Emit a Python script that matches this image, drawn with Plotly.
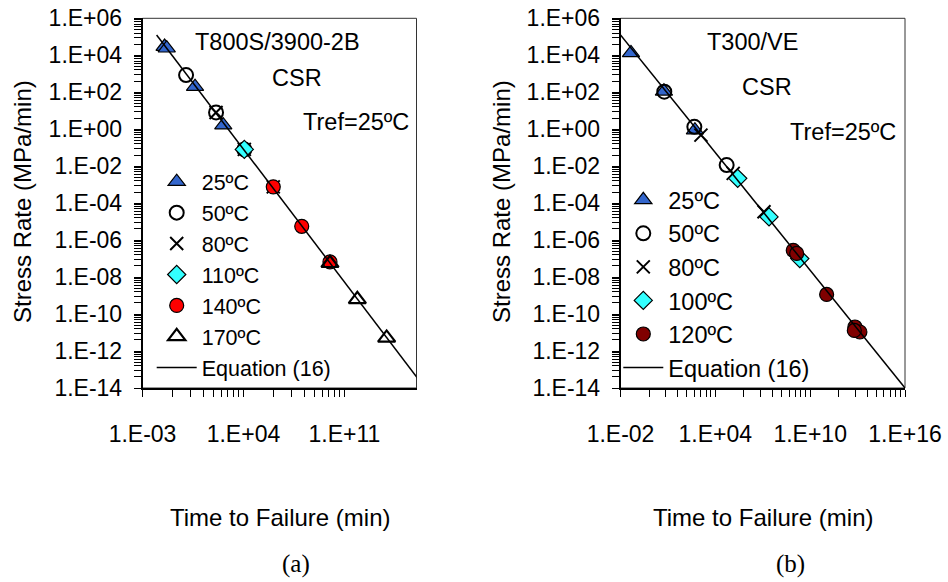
import numpy as np
import plotly.graph_objects as go

W, H = 948, 582

# ---------------- data: panel (a) T800S/3900-2B ----------------
a_t25 = [3.4e-2, 4.8e-2, 4.4e0, 4.0e2]
a_s25 = [2.95e4, 2.4e4, 2.0e2, 1.66e0]
a_t50 = [1.05e0, 1.26e2, 1.15e4]
a_s50 = [8.5e2, 8.1e0, 8.1e-2]
a_t80 = [1.26e2, 1.15e4, 1.17e6]
a_s80 = [8.1e0, 8.1e-2, 7.6e-4]
a_t110 = [1.15e4]
a_s110 = [8.1e-2]
a_t140 = [1.17e6, 1.1e8, 1.0e10]
a_s140 = [7.6e-4, 5.6e-6, 6.6e-8]
a_t170 = [1.0e10, 7.9e11, 8.5e13]
a_s170 = [5.6e-8, 6.2e-10, 5.1e-12]
a_eq_t = [9.5e-3, 3.9e16]
a_eq_s = [1.26e5, 1.0e-14]

# ---------------- data: panel (b) T300/VE ----------------
b_t25 = [4.6e-2, 5.6e0, 5.1e2]
b_s25 = [1.35e4, 1.12e2, 8.9e-1]
b_t50 = [5.9e0, 4.7e2, 5.2e4]
b_s50 = [1.07e2, 1.35e0, 1.15e-2]
b_t80 = [1.23e3, 1.35e5, 1.2e7]
b_s80 = [4.8e-1, 4.1e-3, 3.4e-5]
b_t100 = [2.6e5, 2.5e7, 2.2e9]
b_s100 = [2.2e-3, 1.8e-5, 1.0e-7]
b_t120 = [8.5e8, 1.4e9, 1.1e11, 6.8e12, 1.4e13, 6.2e12]
b_s120 = [2.8e-7, 1.9e-7, 1.15e-9, 2.0e-11, 1.07e-11, 1.3e-11]
b_eq_t = [1.0e-2, 1.0e16]
b_eq_s = [1.26e5, 1.0e-14]

# ---------------- tick labels ----------------
y_tickvals = [1e6, 1e4, 1e2, 1e0, 1e-2, 1e-4, 1e-6, 1e-8, 1e-10, 1e-12, 1e-14]
y_ticktext = ["1.E+06", "1.E+04", "1.E+02", "1.E+00", "1.E-02", "1.E-04",
              "1.E-06", "1.E-08", "1.E-10", "1.E-12", "1.E-14"]
xa_tickvals = [1e-3, 1e4, 1e11]
xa_ticktext = ["1.E-03", "1.E+04", "1.E+11"]
xb_tickvals = [1e-2, 1e4, 1e10, 1e16]
xb_ticktext = ["1.E-02", "1.E+04", "1.E+10", "1.E+16"]

FONT = "Liberation Sans, Arial, sans-serif"
BLUE = "#3366CC"
CYAN = "#33FFFF"
RED = "#FF0000"
DARKRED = "#800000"


def excel_minor(lo, hi, step):
    vals = []
    e = lo
    while e + step <= hi + 1e-9:
        for k in range(2, 10):
            vals.append(10 ** (e + step * np.log10(k)))
        e += step
    return vals


def px2x(px):
    return px / W


def px2y(py):
    return 1 - py / H


fig = go.Figure()


def add(x, y, name, marker, xa, ya, legend, grp):
    fig.add_trace(go.Scatter(x=x, y=y, mode="markers", name=name, marker=marker,
                             xaxis=xa, yaxis=ya, legend=legend, legendgroup=grp,
                             cliponaxis=False))


edge = dict(color="black", width=1.2)
# panel a
add(a_t25, a_s25, "25ºC", dict(symbol="triangle-up", size=15, color=BLUE, line=edge), "x", "y", "legend", "a1")
add(a_t50, a_s50, "50ºC", dict(symbol="circle-open", size=14, color="black", line=dict(width=2)), "x", "y", "legend", "a2")
add(a_t80, a_s80, "80ºC", dict(symbol="x-thin", size=13, line=dict(width=2, color="black")), "x", "y", "legend", "a3")
add(a_t110, a_s110, "110ºC", dict(symbol="diamond", size=14, color=CYAN, line=edge), "x", "y", "legend", "a4")
add(a_t140, a_s140, "140ºC", dict(symbol="circle", size=14, color=RED, line=edge), "x", "y", "legend", "a5")
add(a_t170, a_s170, "170ºC", dict(symbol="triangle-up-open", size=15, color="black", line=dict(width=2.2)), "x", "y", "legend", "a6")
fig.add_trace(go.Scatter(x=a_eq_t, y=a_eq_s, mode="lines", name="Equation (16)",
                         line=dict(color="black", width=1.5), xaxis="x", yaxis="y",
                         legend="legend", legendgroup="a7"))
# panel b
add(b_t25, b_s25, "25ºC", dict(symbol="triangle-up", size=15, color=BLUE, line=edge), "x2", "y2", "legend2", "b1")
add(b_t50, b_s50, "50ºC", dict(symbol="circle-open", size=14, color="black", line=dict(width=2)), "x2", "y2", "legend2", "b2")
add(b_t80, b_s80, "80ºC", dict(symbol="x-thin", size=13, line=dict(width=2, color="black")), "x2", "y2", "legend2", "b3")
add(b_t100, b_s100, "100ºC", dict(symbol="diamond", size=14, color=CYAN, line=edge), "x2", "y2", "legend2", "b4")
add(b_t120, b_s120, "120ºC", dict(symbol="circle", size=14, color=DARKRED, line=edge), "x2", "y2", "legend2", "b5")
fig.add_trace(go.Scatter(x=b_eq_t, y=b_eq_s, mode="lines", name="Equation (16)",
                         line=dict(color="black", width=1.5), xaxis="x2", yaxis="y2",
                         legend="legend2", legendgroup="b6"))

tickfont = dict(family=FONT, size=23, color="black")


def xaxis_cfg(domain, rng, tv, tt, minor_vals, anchor):
    return dict(domain=domain, type="log", range=rng, tickmode="array", tickvals=tv, ticktext=tt,
                ticks="outside", ticklen=7, tickwidth=1, tickcolor="black",
                showline=True, linewidth=1.5, linecolor="black", showgrid=False, zeroline=False,
                tickfont=tickfont, ticklabelstandoff=18, ticklabeloverflow="allow",
                anchor=anchor, automargin=False,
                minor=dict(tickmode="array", tickvals=minor_vals, ticks="outside", ticklen=7,
                           tickwidth=1, tickcolor="black", showgrid=False))


def yaxis_cfg(domain, anchor):
    return dict(domain=domain, type="log", range=[-14, 6], tickmode="array", tickvals=y_tickvals,
                ticktext=y_ticktext, ticks="outside", ticklen=7, tickwidth=1, tickcolor="black",
                showline=True, linewidth=1.5, linecolor="black", showgrid=False, zeroline=False,
                tickfont=tickfont, ticklabelstandoff=7, ticklabeloverflow="allow",
                anchor=anchor, automargin=False,
                minor=dict(tickmode="array", tickvals=excel_minor(-14, 6, 2), ticks="outside",
                           ticklen=7, tickwidth=1, tickcolor="black", showgrid=False))


ydom = [px2y(388), px2y(18.3)]
fig.update_layout(
    width=W, height=H, margin=dict(l=0, r=0, t=0, b=0),
    paper_bgcolor="white", plot_bgcolor="white", showlegend=True,
    xaxis=xaxis_cfg([px2x(142.5), px2x(416.5)], [-3, 16], xa_tickvals, xa_ticktext,
                    excel_minor(-3, 16, 7), "y"),
    yaxis=yaxis_cfg(ydom, "x"),
    xaxis2=xaxis_cfg([px2x(620.5), px2x(905)], [-2, 16], xb_tickvals, xb_ticktext,
                     excel_minor(-2, 16, 6), "y2"),
    yaxis2=yaxis_cfg(ydom, "x2"),
    legend=dict(x=px2x(176.7 - 25), y=px2y(161.2), xanchor="left", yanchor="top",
                bgcolor="rgba(0,0,0,0)", borderwidth=0, traceorder="grouped", tracegroupgap=0,
                itemwidth=40, font=dict(family=FONT, size=21.5, color="black")),
    legend2=dict(x=px2x(643.3 - 25), y=px2y(178), xanchor="left", yanchor="top",
                 bgcolor="rgba(0,0,0,0)", borderwidth=0, traceorder="grouped", tracegroupgap=0,
                 itemwidth=40, font=dict(family=FONT, size=23.5, color="black")),
)

for xr, yr in (("x domain", "y domain"), ("x2 domain", "y2 domain")):
    fig.add_shape(type="rect", xref=xr, yref=yr, x0=0, x1=1, y0=0, y1=1,
                  line=dict(color="#333333", width=1), layer="below")

texts = [
    ("T800S/3900-2B", 277, 42, 0), ("CSR", 297, 78, 0), ("Tref=25ºC", 356, 122, 0),
    ("T300/VE", 752, 42, 0), ("CSR", 767, 87, 0), ("Tref=25ºC", 842.5, 132, 0),
    ("Stress Rate (MPa/min)", 22, 202, -90), ("Stress Rate (MPa/min)", 501, 202, -90),
    ("Time to Failure (min)", 279.5, 517, 0), ("Time to Failure (min)", 762.7, 517, 0),
]
for t, x, y, ang in texts:
    fig.add_annotation(text=t, x=px2x(x), y=px2y(y), xref="paper", yref="paper",
                       showarrow=False, textangle=ang,
                       font=dict(family=FONT, size=24 if (ang or "Time" in t) else 23.5, color="black"),
                       xanchor="center", yanchor="middle")
for t, x in (("(a)", 296), ("(b)", 790)):
    fig.add_annotation(text=t, x=px2x(x), y=px2y(564), xref="paper", yref="paper",
                       showarrow=False,
                       font=dict(family="Liberation Serif, Times New Roman, serif", size=25, color="black"),
                       xanchor="center", yanchor="middle")

# the page's default 8px body margin would push the figure off the window
fig.write_html("out.html", config={"displayModeBar": False},
               post_script="document.body.style.margin='0';")
